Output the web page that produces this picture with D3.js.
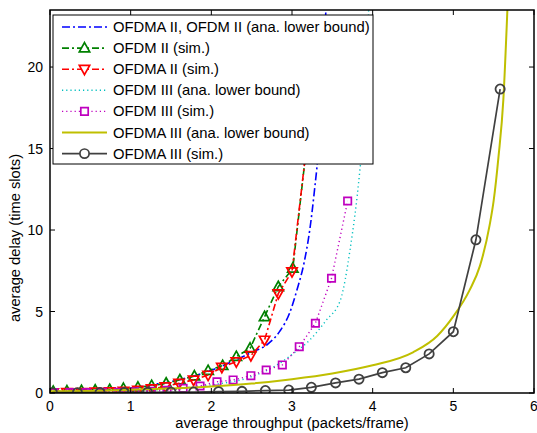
<!DOCTYPE html>
<html><head><meta charset="utf-8">
<script src="https://cdn.jsdelivr.net/npm/d3@7"></script>
<style>body{margin:0;background:#fff}svg{display:block}text{font-family:"Liberation Sans",Arial,Helvetica,sans-serif}</style>
</head><body><svg id="c" width="537" height="433"></svg>
<script>
// ---- data ----
const xTicks = [0,1,2,3,4,5,6];
const yTicks = [0,5,10,15,20];
const legendLabels = ["OFDMA II, OFDM II (ana. lower bound)","OFDM II (sim.)","OFDMA II (sim.)","OFDM III (ana. lower bound)","OFDM III (sim.)","OFDMA III (ana. lower bound)","OFDMA III (sim.)"];
const anaIIx = [0,0.5,1.0,1.25,1.5,1.75,2.0,2.25,2.5,2.7,2.85,2.97,3.06,3.15,3.22,3.28,3.33,3.37,3.42];
const anaIIy = [0.05,0.12,0.3,0.5,0.7,1.0,1.4,1.9,2.5,3.0,3.8,4.9,6.3,8.0,10,12.5,15,18,23.5];
const ofdmIIx = [0.04,0.21,0.39,0.56,0.74,0.91,1.09,1.26,1.44,1.61,1.79,1.96,2.14,2.31,2.48,2.66,2.83,3.01,3.2];
const ofdmIIy = [0.1,0.12,0.14,0.17,0.2,0.27,0.35,0.45,0.6,0.8,1.04,1.37,1.68,2.23,2.74,4.68,6.52,7.65,16];
const ofdmaIIx = [0.04,0.21,0.39,0.56,0.74,0.91,1.09,1.26,1.43,1.6,1.78,1.96,2.13,2.31,2.49,2.66,2.83,3.0,3.2];
const ofdmaIIy = [0.02,0.03,0.04,0.06,0.08,0.12,0.18,0.27,0.39,0.6,0.8,1.1,1.58,1.92,2.3,3.25,6.1,7.45,16];
const anaIIIofdmX = [0,0.5,1.0,1.5,2.0,2.5,2.77,3.02,3.22,3.43,3.6,3.72,3.84,3.9,3.95];
const anaIIIofdmY = [0.05,0.08,0.12,0.25,0.5,1.0,1.6,2.43,3.25,4.5,5.7,8.8,13.6,17,23.5];
const ofdmIIIx = [0.05,0.25,0.45,0.65,0.85,1.05,1.25,1.45,1.65,1.86,2.07,2.27,2.49,2.68,2.88,3.09,3.29,3.49,3.69];
const ofdmIIIy = [0.02,0.02,0.03,0.04,0.05,0.07,0.1,0.16,0.29,0.43,0.69,0.8,1.06,1.41,1.72,2.84,4.28,7.04,11.78];
const anaIIIofdmaX = [0,0.5,1.0,1.5,2.0,2.5,3.0,3.5,4.0,4.5,4.8,5.0,5.2,5.33,5.45,5.5,5.56,5.62,5.67];
const anaIIIofdmaY = [0.1,0.13,0.2,0.28,0.4,0.58,0.85,1.2,1.7,2.5,3.5,4.7,6.3,7.8,10.3,11.8,14.5,18,23.5];
const ofdmaIIIx = [0.03,0.34,0.62,0.92,1.21,1.50,1.78,2.09,2.38,2.67,2.96,3.24,3.54,3.83,4.12,4.41,4.70,5.00,5.28,5.58];
const ofdmaIIIy = [0.02,0.02,0.03,0.03,0.04,0.05,0.06,0.08,0.1,0.15,0.18,0.35,0.62,0.85,1.25,1.55,2.4,3.76,9.4,18.65];

// ---- layout ----
const L=50,R=534,T=10,B=393;
const svg=d3.select("#c");
const x=d3.scaleLinear().domain([0,6]).range([L,R]);
const y=d3.scaleLinear().domain([0,23.5]).range([B,T]);
svg.append("defs").append("clipPath").attr("id","clip").append("rect").attr("x",L).attr("y",T).attr("width",R-L).attr("height",B-T);

const zip=(a,b)=>a.map((v,i)=>[v,b[i]]);
const series=[
 {d:zip(anaIIx,anaIIy),color:"#0000ff",dash:"8,3,2,3",w:1.6,curve:true,marker:null},
 {d:zip(ofdmIIx,ofdmIIy),color:"#008000",dash:"7,3,2,3",w:1.6,curve:false,marker:"up"},
 {d:zip(ofdmaIIx,ofdmaIIy),color:"#ff0000",dash:"7,3,2,3",w:1.6,curve:false,marker:"down"},
 {d:zip(anaIIIofdmX,anaIIIofdmY),color:"#00bfbf",dash:"1.2,3",w:1.4,curve:true,marker:null},
 {d:zip(ofdmIIIx,ofdmIIIy),color:"#bf00bf",dash:"1.2,3",w:1.4,curve:false,marker:"sq"},
 {d:zip(anaIIIofdmaX,anaIIIofdmaY),color:"#bfbf00",dash:null,w:2,curve:true,marker:null},
 {d:zip(ofdmaIIIx,ofdmaIIIy),color:"#404040",dash:null,w:1.7,curve:false,marker:"circ"}
];
function markerPath(t){
 if(t==="up") return "M0,-5.5L5.2,3.8L-5.2,3.8Z";
 if(t==="down") return "M0,5.5L5.2,-3.8L-5.2,-3.8Z";
 if(t==="sq") return "M-3.7,-3.7H3.7V3.7H-3.7Z";
 if(t==="circ") return d3.arc()({innerRadius:0,outerRadius:4.6,startAngle:0,endAngle:2*Math.PI});
}
const g=svg.append("g").attr("clip-path","url(#clip)");
series.forEach(s=>{
 const line=d3.line().x(d=>x(d[0])).y(d=>y(d[1])).curve(s.curve?d3.curveMonotoneX:d3.curveLinear);
 g.append("path").attr("d",line(s.d)).attr("fill","none").attr("stroke",s.color).attr("stroke-width",s.w).attr("stroke-dasharray",s.dash);
 if(s.marker){
  g.selectAll(null).data(s.d).enter().append("path").attr("d",markerPath(s.marker))
   .attr("transform",d=>`translate(${x(d[0])},${y(d[1])})`).attr("fill","none").attr("stroke",s.color).attr("stroke-width",s.marker==="circ"?1.8:1.7);
 }
});

// axes box & ticks
const ax=svg.append("g");
ax.append("rect").attr("x",L).attr("y",T).attr("width",R-L).attr("height",B-T).attr("fill","none").attr("stroke","#000").attr("stroke-width",1.5);
xTicks.forEach(t=>{
 ax.append("line").attr("x1",x(t)).attr("x2",x(t)).attr("y1",B).attr("y2",B-5).attr("stroke","#000");
 ax.append("line").attr("x1",x(t)).attr("x2",x(t)).attr("y1",T).attr("y2",T+5).attr("stroke","#000");
 ax.append("text").attr("x",x(t)).attr("y",B+18).attr("text-anchor","middle").attr("font-size",14).text(t);
});
yTicks.forEach(t=>{
 ax.append("line").attr("x1",L).attr("x2",L+5).attr("y1",y(t)).attr("y2",y(t)).attr("stroke","#000");
 ax.append("line").attr("x1",R).attr("x2",R-5).attr("y1",y(t)).attr("y2",y(t)).attr("stroke","#000");
 ax.append("text").attr("x",L-7).attr("y",y(t)+5).attr("text-anchor","end").attr("font-size",14).text(t);
});
ax.append("text").attr("x",(L+R)/2).attr("y",428).attr("text-anchor","middle").attr("font-size",14.7).text("average throughput (packets/frame)");
ax.append("text").attr("transform","translate(20,238) rotate(-90)").attr("text-anchor","middle").attr("font-size",14.7).text("average delay (time slots)");

// legend
const lg=svg.append("g");
lg.append("rect").attr("x",53).attr("y",15).attr("width",320).attr("height",149).attr("fill","#fff").attr("stroke","#000").attr("stroke-width",1);
series.forEach((s,i)=>{
 const yy=27+i*21.1;
 lg.append("line").attr("x1",62).attr("x2",107).attr("y1",yy).attr("y2",yy).attr("stroke",s.color).attr("stroke-width",s.w).attr("stroke-dasharray",s.dash);
 if(s.marker) lg.append("path").attr("d",markerPath(s.marker)).attr("transform",`translate(84.5,${yy})`).attr("fill","#fff").attr("stroke",s.color).attr("stroke-width",1.7);
 lg.append("text").attr("x",113).attr("y",yy+5).attr("font-size",14.8).text(legendLabels[i]);
});
</script></body></html>
